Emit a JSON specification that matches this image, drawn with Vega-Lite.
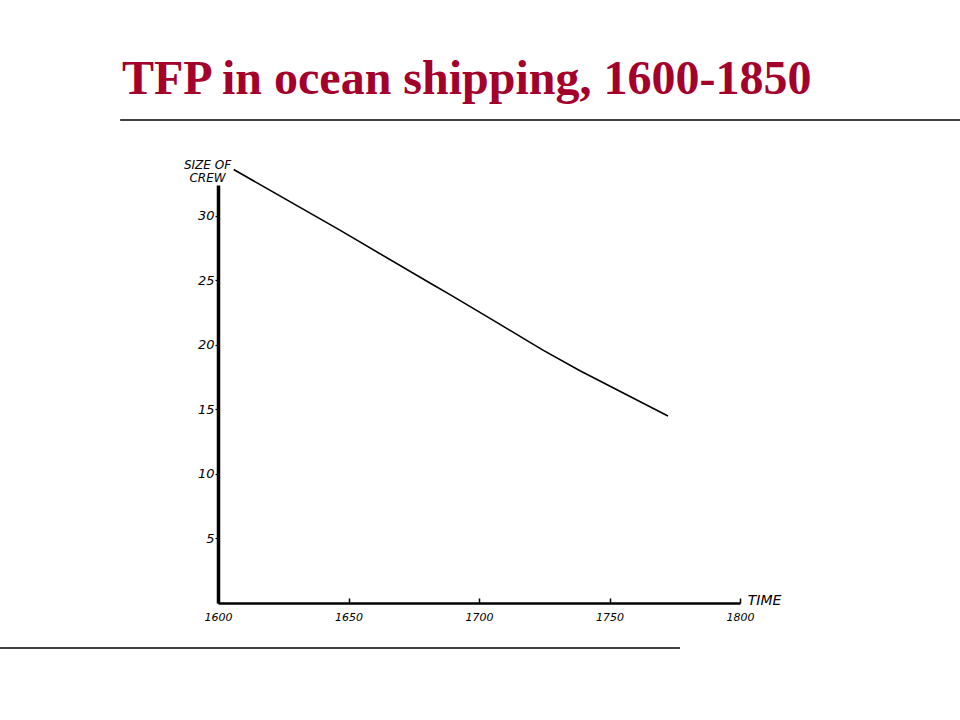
{
  "$schema": "https://vega.github.io/schema/vega-lite/v6.json",
  "width": 522,
  "height": 418,
  "autosize": {"type": "none"},
  "padding": {"left": 218, "top": 185, "right": 220, "bottom": 117},
  "background": "white",
  "title": {
    "text": "TFP in ocean shipping, 1600-1850",
    "anchor": "start",
    "frame": "group",
    "font": "Liberation Serif",
    "fontSize": 48,
    "fontWeight": "bold",
    "color": "#a3002b",
    "dx": -96,
    "dy": 23,
    "baseline": "alphabetic",
    "offset": 0
  },
  "datasets": {
    "crew": [
      {"year": 1606, "crew": 33.6},
      {"year": 1646.7, "crew": 28.9},
      {"year": 1681.2, "crew": 24.8},
      {"year": 1688.9, "crew": 23.9},
      {"year": 1703.1, "crew": 22.2},
      {"year": 1724.5, "crew": 19.6},
      {"year": 1738.7, "crew": 18.0},
      {"year": 1772.4, "crew": 14.5}
    ],
    "rules": [
      {"x": 1562.5, "x2": 1884.3, "y": 37.44},
      {"x": 1516.5, "x2": 1777, "y": -3.49}
    ]
  },
  "layer": [
    {
      "data": {"name": "crew"},
      "mark": {"type": "line", "color": "black", "strokeWidth": 1.6, "clip": false},
      "encoding": {
        "x": {
          "field": "year",
          "type": "quantitative",
          "scale": {"domain": [1600, 1800], "nice": false, "zero": false},
          "axis": {
            "values": [1600, 1650, 1700, 1750, 1800],
            "format": "d",
            "grid": false,
            "domainColor": "black",
            "domainWidth": 2.5,
            "tickColor": "black",
            "tickSize": -5,
            "tickWidth": 1.5,
            "labelFont": "DejaVu Sans",
            "labelFontStyle": "italic",
            "labelFontSize": 11,
            "labelColor": "black",
            "labelPadding": 13,
            "labelFlush": false,
            "title": "TIME",
            "titleFont": "DejaVu Sans",
            "titleFontStyle": "italic",
            "titleFontWeight": "normal",
            "titleFontSize": 14,
            "titleColor": "black",
            "titleAnchor": "start",
            "titleAlign": "center",
            "titleBaseline": "alphabetic",
            "titleX": 546,
            "titleY": 1
          }
        },
        "y": {
          "field": "crew",
          "type": "quantitative",
          "scale": {"domain": [0, 32.4], "nice": false},
          "axis": {
            "values": [5, 10, 15, 20, 25, 30],
            "grid": false,
            "domainColor": "black",
            "domainWidth": 3.5,
            "tickColor": "black",
            "tickSize": 3,
            "tickWidth": 1.2,
            "labelFont": "DejaVu Sans",
            "labelFontStyle": "italic",
            "labelFontSize": 13,
            "labelColor": "black",
            "labelPadding": 1,
            "title": ["SIZE OF", "CREW"],
            "titleFont": "DejaVu Sans",
            "titleFontStyle": "italic",
            "titleFontWeight": "normal",
            "titleFontSize": 12,
            "titleColor": "black",
            "titleAngle": 0,
            "titleAlign": "center",
            "titleBaseline": "alphabetic",
            "titleLineHeight": 13,
            "titleX": -11,
            "titleY": -17
          }
        }
      }
    },
    {
      "data": {"name": "rules"},
      "mark": {"type": "rule", "color": "black", "strokeWidth": 1.5, "clip": false},
      "encoding": {
        "x": {"field": "x", "type": "quantitative"},
        "x2": {"field": "x2"},
        "y": {"field": "y", "type": "quantitative"}
      }
    }
  ],
  "config": {"view": {"stroke": null}}
}
